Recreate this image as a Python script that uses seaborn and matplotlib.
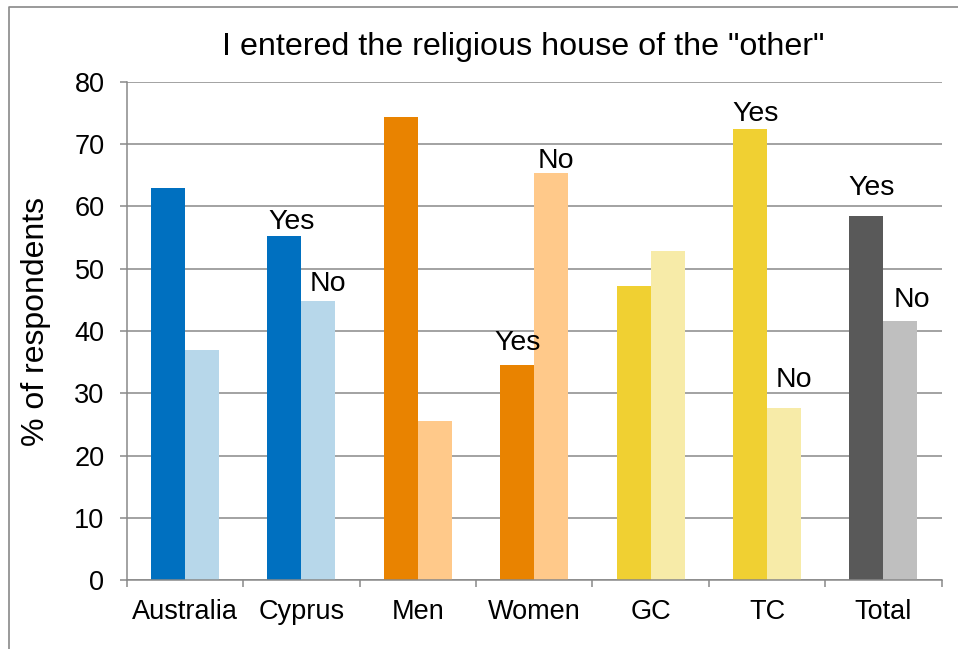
import matplotlib
matplotlib.use("Agg")
import matplotlib.pyplot as plt
from matplotlib.lines import Line2D
import seaborn as sns
import pandas as pd

# Share of respondents who entered the religious house of the "other"
groups = ["Australia", "Cyprus", "Men", "Women", "GC", "TC", "Total"]
answers = ["Yes", "No"]
yes_pct = [63.0, 55.2, 74.4, 34.6, 47.2, 72.4, 58.4]
no_pct = [37.0, 44.8, 25.6, 65.4, 52.8, 27.6, 41.6]
y_ticks = [0, 10, 20, 30, 40, 50, 60, 70, 80]

# Dark / light colour pair per group
dark_colors = ["#0070C0", "#0070C0", "#E98300", "#E98300", "#F0D032", "#F0D032", "#595959"]
light_colors = ["#B7D7EA", "#B7D7EA", "#FFC98A", "#FFC98A", "#F7EBA8", "#F7EBA8", "#BFBFBF"]

# Text labels placed over selected bars: (dx, dy) in points from the bar top
bar_labels = {
    ("Cyprus", "Yes"): (5.4, 5.0),
    ("Cyprus", "No"): (6.8, 7.2),
    ("Women", "Yes"): (0.4, 10.8),
    ("Women", "No"): (3.2, 3.6),
    ("TC", "Yes"): (4.0, 5.8),
    ("TC", "No"): (7.2, 15.1),
    ("Total", "Yes"): (4.0, 15.8),
    ("Total", "No"): (7.9, 10.1),
}

df = pd.DataFrame({
    "group": groups * 2,
    "answer": ["Yes"] * len(groups) + ["No"] * len(groups),
    "pct": yes_pct + no_pct,
})

sns.set_theme(style="white")
plt.rcParams["font.family"] = ["Liberation Sans", "DejaVu Sans"]
plt.rcParams["text.color"] = "black"
plt.rcParams["axes.labelcolor"] = "black"
plt.rcParams["xtick.labelcolor"] = "black"
plt.rcParams["ytick.labelcolor"] = "black"

GRAY = "#898989"

fig = plt.figure(figsize=(9.58, 6.49), dpi=100)
ax = fig.add_axes([126.7 / 958, 69 / 649, 815 / 958, 498 / 649])

sns.barplot(data=df, x="group", y="pct", hue="answer", order=groups,
            hue_order=answers, width=0.584, saturation=1, legend=False,
            palette=["#0070C0", "#B7D7EA"], ax=ax, zorder=2)

# Recolour each pair of bars with its group colours
for container, cols in zip(ax.containers, [dark_colors, light_colors]):
    for patch, c in zip(container.patches, cols):
        patch.set_facecolor(c)
        patch.set_edgecolor("none")

ax.set_xlim(-0.5, len(groups) - 0.5)
ax.set_ylim(0, 80)
ax.set_yticks(y_ticks)
ax.yaxis.grid(True, color=GRAY, linewidth=1.1, zorder=0)
ax.set_axisbelow(True)
ax.xaxis.grid(False)

for side in ["top", "right"]:
    ax.spines[side].set_visible(False)
for side in ["left", "bottom"]:
    ax.spines[side].set_color(GRAY)
    ax.spines[side].set_linewidth(1.1)

# Category ticks sit between groups
ax.set_xticks([i - 0.5 for i in range(len(groups) + 1)], minor=True)
ax.tick_params(axis="x", which="major", length=0, pad=14, labelsize=19.5, labelcolor="black")
ax.tick_params(axis="x", which="minor", length=5, width=1.1, color=GRAY, direction="out")
ax.tick_params(axis="y", which="major", length=5, width=1.1, color=GRAY, direction="out",
               pad=11, labelsize=19.5, labelcolor="black")
ax.tick_params(left=True, bottom=False)
ax.tick_params(axis="x", which="minor", bottom=True)

ax.set_xlabel("")
ax.set_ylabel("% of respondents", fontsize=23, color="black")
ax.yaxis.set_label_coords(-0.0925, 0.52)

# Yes / No text above chosen bars
for container, ans in zip(ax.containers, answers):
    for patch, g in zip(container.patches, groups):
        if (g, ans) in bar_labels:
            dx, dy = bar_labels[(g, ans)]
            ax.annotate(ans, xy=(patch.get_x() + patch.get_width() / 2, patch.get_height()),
                        xytext=(dx, dy), textcoords="offset points", color="black",
                        ha="center", va="baseline", fontsize=20.5, zorder=5)

fig.text(523 / 958, 1 - 47 / 649, 'I entered the religious house of the "other"',
         ha="center", va="center", fontsize=23.2, color="black")

# Chart-area frame (left and top edges)
y_top = 1 - 7 / 649
x_left = 9 / 958
fig.add_artist(Line2D([x_left, x_left, 1.0], [0.0, y_top, y_top], transform=fig.transFigure,
                      color=GRAY, linewidth=1.2))

fig.savefig("out.png", dpi=100, facecolor="white")
